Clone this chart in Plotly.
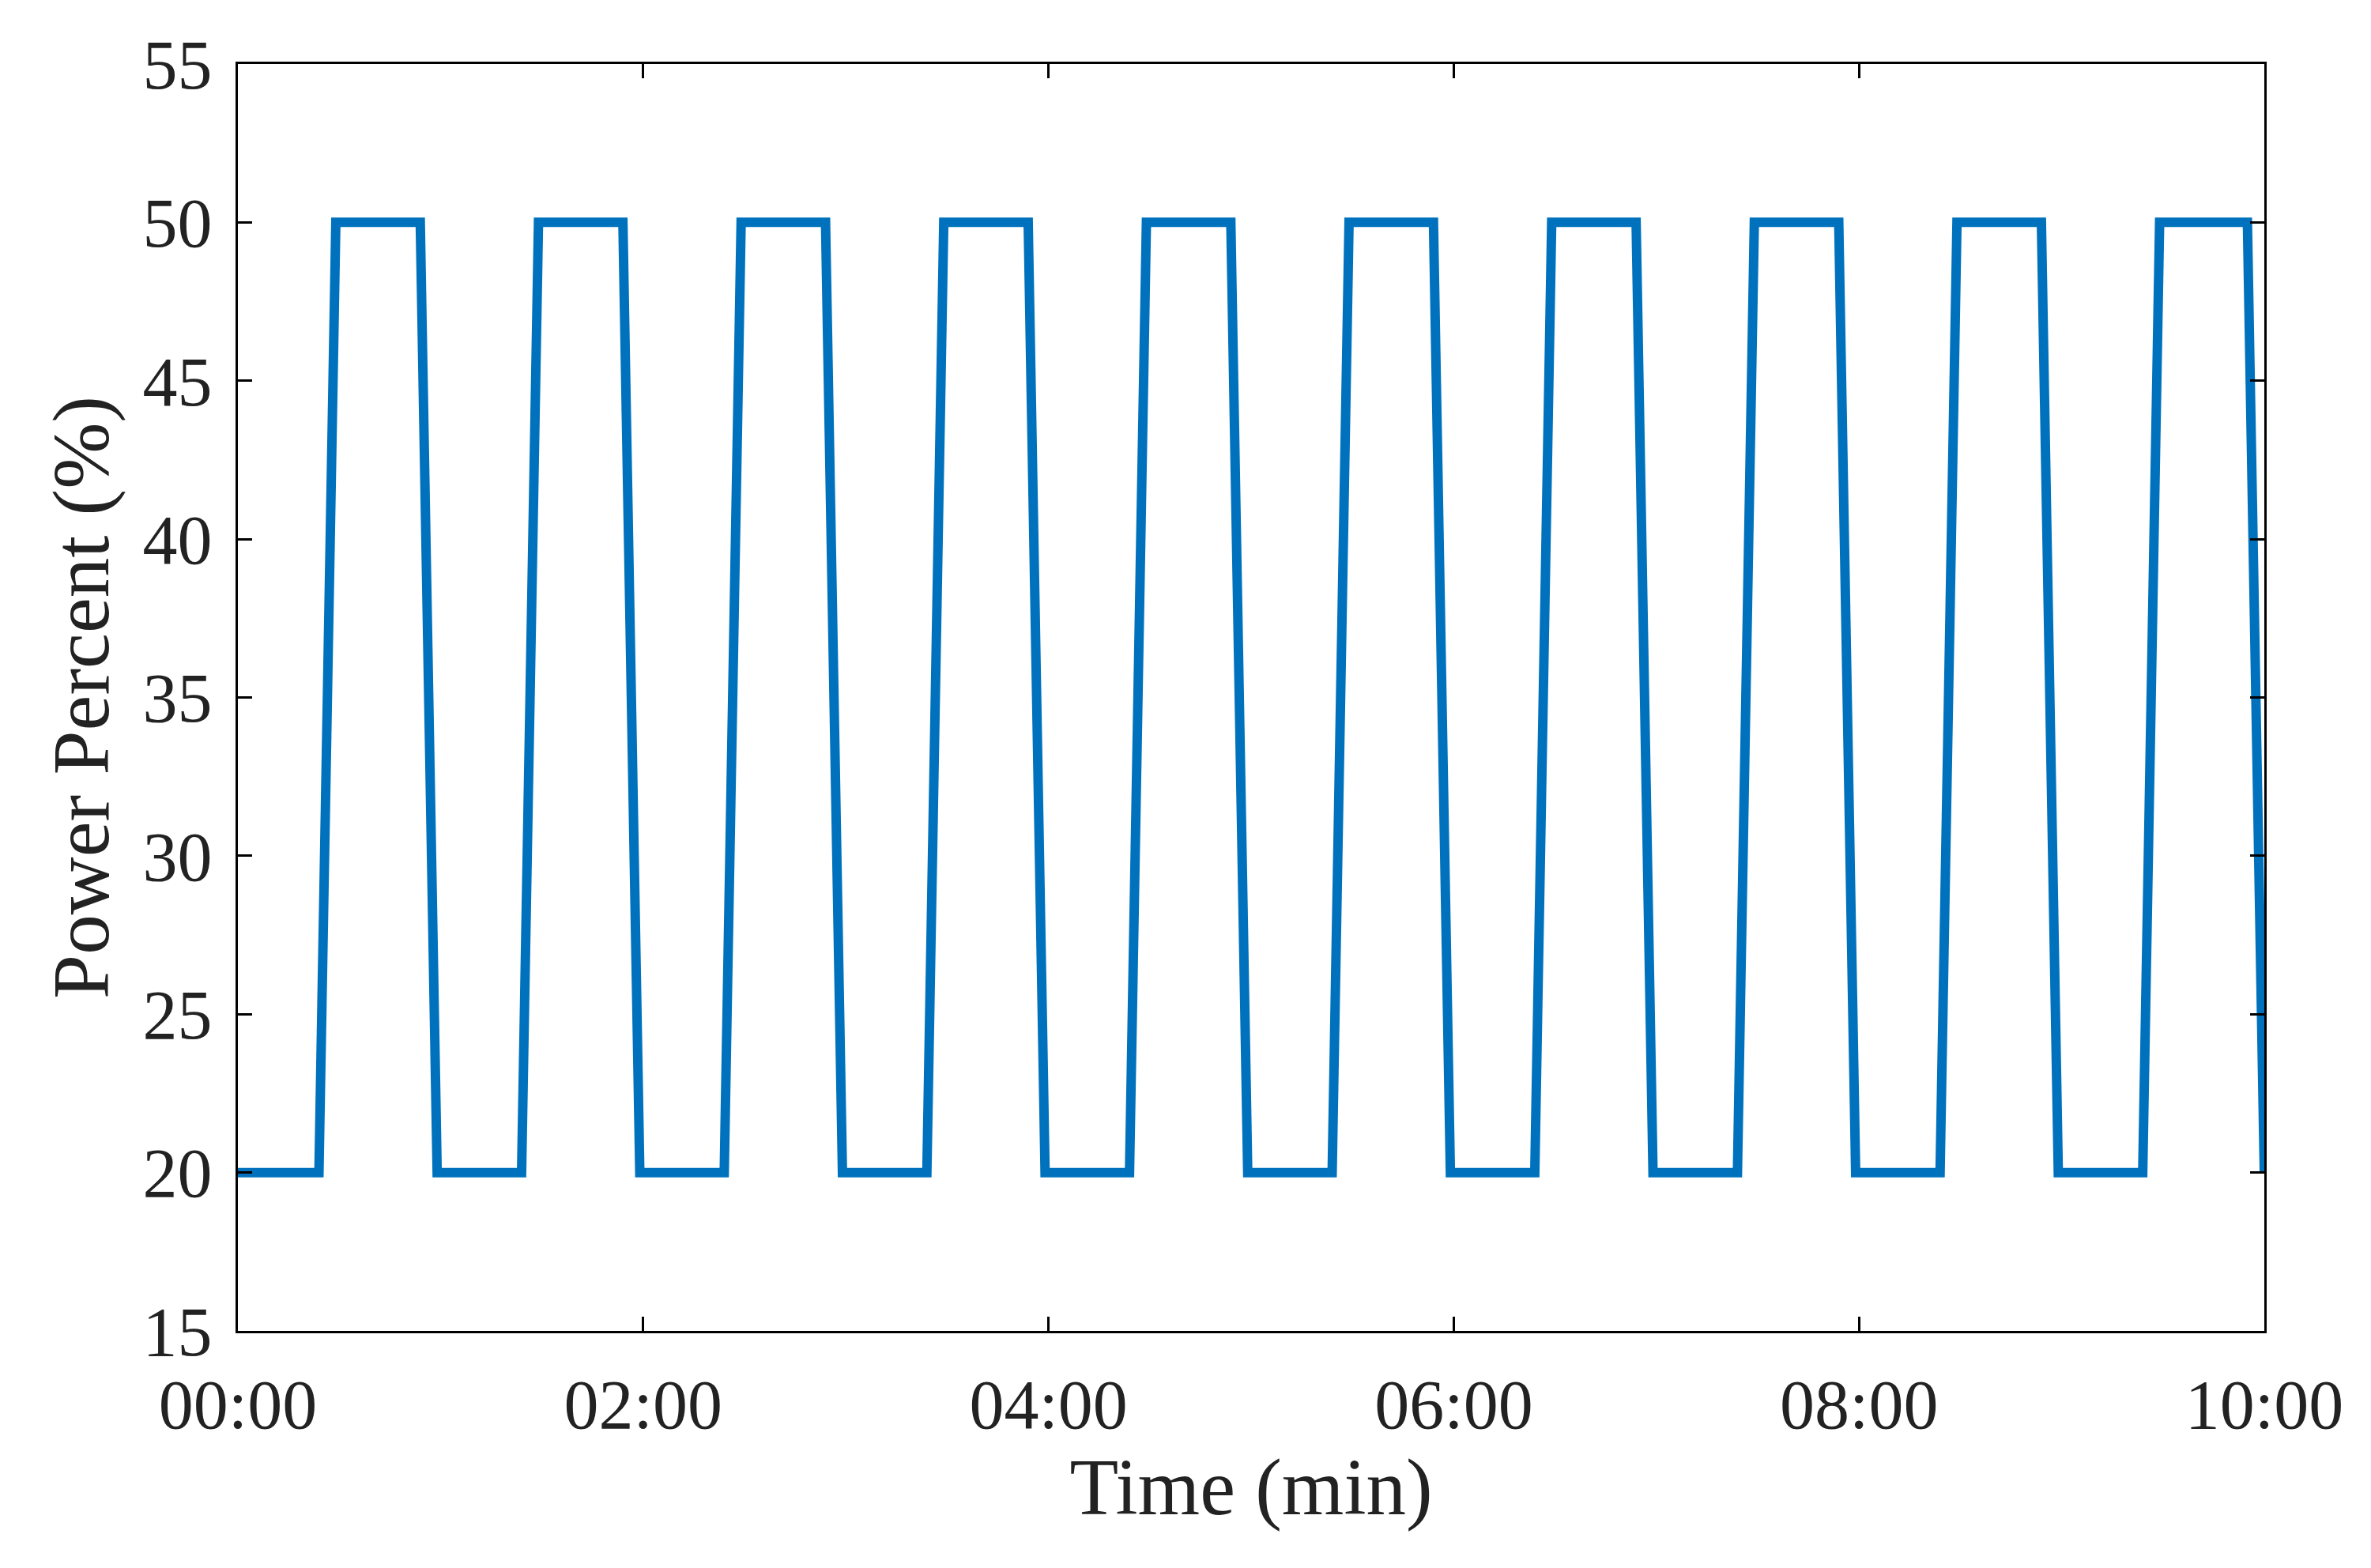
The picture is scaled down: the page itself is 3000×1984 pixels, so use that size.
import plotly.graph_objects as go

# time in seconds, power percent
times = [0, 24, 29, 54, 59,
         84, 89, 114, 119,
         144, 149, 174, 179,
         204, 209, 234, 239,
         264, 269, 294, 299,
         324, 329, 354, 359,
         384, 389, 414, 419,
         444, 449, 474, 479,
         504, 509, 534, 539,
         564, 569, 595, 600]
power = [20, 20, 50, 50, 20,
         20, 50, 50, 20,
         20, 50, 50, 20,
         20, 50, 50, 20,
         20, 50, 50, 20,
         20, 50, 50, 20,
         20, 50, 50, 20,
         20, 50, 50, 20,
         20, 50, 50, 20,
         20, 50, 50, 20]
xtick_vals = [0, 120, 240, 360, 480, 600]
xtick_text = ["00:00", "02:00", "04:00", "06:00", "08:00", "10:00"]
ytick_vals = [15, 20, 25, 30, 35, 40, 45, 50, 55]

fig = go.Figure(go.Scatter(x=times, y=power, mode="lines",
                           line=dict(color="#0072BD", width=12)))
axis_common = dict(showgrid=False, zeroline=False, showline=True, linecolor="black",
                   linewidth=3, mirror="ticks", ticks="inside", ticklen=18,
                   tickwidth=3, tickcolor="black", tickfont=dict(size=88))
fig.update_layout(
    width=3000, height=1984, plot_bgcolor="white", paper_bgcolor="white",
    margin=dict(l=293, r=143, t=73, b=308),
    font=dict(family="Liberation Serif", size=84, color="#222222"),
    showlegend=False,
    xaxis=dict(range=[0, 600], tickvals=xtick_vals, ticktext=xtick_text,
               ticklabelstandoff=14,
               title=dict(text="Time (min)", standoff=10), **axis_common),
    yaxis=dict(range=[15, 55], tickvals=ytick_vals, ticklabelstandoff=12,
               title=dict(text="Power Percent (%)", standoff=10), **axis_common),
)
fig.write_html("out.html")
